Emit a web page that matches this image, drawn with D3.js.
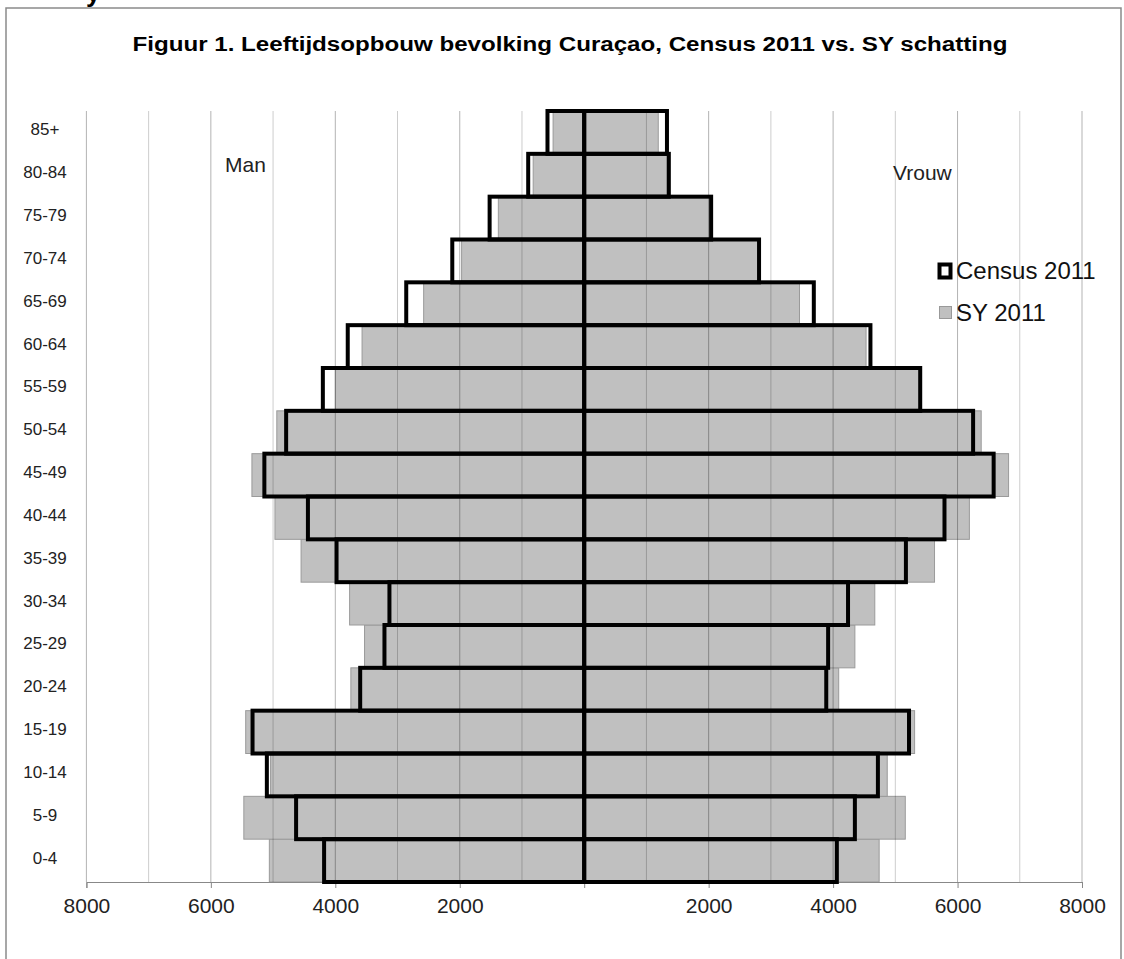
<!DOCTYPE html>
<html><head><meta charset="utf-8">
<script src="https://cdn.jsdelivr.net/npm/d3@7"></script>
<style>
html,body{margin:0;padding:0;background:#fff;}
svg{display:block;font-family:"Liberation Sans",Arial,sans-serif;}
</style></head>
<body>
<svg id="c" width="1124" height="959"></svg>
<script>
const categories = ["0-4","5-9","10-14","15-19","20-24","25-29","30-34","35-39","40-44","45-49","50-54","55-59","60-64","65-69","70-74","75-79","80-84","85+"];
const manCensus   = [4180,4630,5100,5330,3600,3210,3130,3980,4440,5140,4790,4200,3800,2860,2120,1520,900,590];
const manSY       = [5060,5470,5040,5440,3750,3530,3770,4550,4970,5340,4940,4000,3570,2580,1970,1380,820,500];
const vrouwCensus = [4060,4350,4720,5220,3890,3920,4240,5170,5790,6580,6250,5400,4600,3690,2810,2040,1360,1330];
const vrouwSY     = [4740,5160,4870,5310,4090,4350,4670,5630,6190,6820,6380,5380,4530,3460,2790,2030,1330,1190];
const tickValues  = [-8000,-6000,-4000,-2000,0,2000,4000,6000,8000];
const gridValues  = [-8000,-7000,-6000,-5000,-4000,-3000,-2000,-1000,1000,2000,3000,4000,5000,6000,7000,8000];
const seriesNames = ["Census 2011","SY 2011"];
const titleText = "Figuur 1. Leeftijdsopbouw bevolking Curaçao, Census 2011 vs. SY schatting";

const svg = d3.select("#c");
const x = d3.scaleLinear().domain([-8000,8000]).range([86.4,1082]);
const y = d3.scaleBand().domain(categories.slice().reverse()).range([111,882]).padding(0);

// frame
svg.append("path").attr("d","M6,959 V8 H1121 V959").attr("fill","none").attr("stroke","#8a8a8a").attr("stroke-width",1.5);
// clipped heading fragment (cut off at the top in the reference too)
svg.append("text").attr("x",86).attr("y",2).attr("font-size",26).attr("font-weight","bold").text("y");

// title
svg.append("text").attr("x",570).attr("y",51).attr("text-anchor","middle")
  .attr("font-size",20).attr("font-weight","bold")
  .attr("textLength",875).attr("lengthAdjust","spacingAndGlyphs").text(titleText);

const rows = categories.map((c,i)=>({c, mC:manCensus[i], mS:manSY[i], vC:vrouwCensus[i], vS:vrouwSY[i]}));

// SY bars
const g = svg.append("g");
rows.forEach(r=>{
  g.append("rect").attr("x",x(-r.mS)).attr("width",x(0)-x(-r.mS)).attr("y",y(r.c)).attr("height",y.bandwidth())
    .attr("fill","#c0c0c0").attr("stroke","#9a9a9a").attr("stroke-width",1);
  g.append("rect").attr("x",x(0)).attr("width",x(r.vS)-x(0)).attr("y",y(r.c)).attr("height",y.bandwidth())
    .attr("fill","#c0c0c0").attr("stroke","#9a9a9a").attr("stroke-width",1);
});

// gridlines (over the grey bars, translucent)
svg.append("g").selectAll("line").data(gridValues).join("line")
  .attr("x1",d=>x(d)).attr("x2",d=>x(d)).attr("y1",111).attr("y2",882)
  .attr("stroke",d=>d%2000===0?"rgba(0,0,0,0.30)":"rgba(0,0,0,0.20)").attr("stroke-width",1);

// axis
const ax = svg.append("g").attr("transform","translate(0,882)")
  .call(d3.axisBottom(x).tickValues(tickValues).tickSize(6).tickFormat(d=>d===0?"":Math.abs(d)));
ax.select(".domain").attr("stroke","#888");
ax.selectAll(".tick line").attr("stroke","#888");
ax.selectAll(".tick text").attr("font-size",21).attr("fill","#222").attr("dy","1.05em")
  .attr("font-family","Liberation Sans, Arial, sans-serif");

// Census outlines
const gc = svg.append("g");
rows.forEach(r=>{
  gc.append("rect").attr("x",x(-r.mC)).attr("width",x(0)-x(-r.mC)).attr("y",y(r.c)).attr("height",y.bandwidth())
    .attr("fill","none").attr("stroke","#000").attr("stroke-width",4);
  gc.append("rect").attr("x",x(0)).attr("width",x(r.vC)-x(0)).attr("y",y(r.c)).attr("height",y.bandwidth())
    .attr("fill","none").attr("stroke","#000").attr("stroke-width",4);
});

// category labels
svg.append("g").selectAll("text").data(categories).join("text")
  .attr("x",45).attr("y",d=>y(d)+y.bandwidth()/2+3).attr("text-anchor","middle")
  .attr("font-size",17).attr("fill","#222").text(d=>d);

// Man / Vrouw
svg.append("text").attr("x",225).attr("y",172).attr("font-size",21).attr("fill","#222").text("Man");
svg.append("text").attr("x",893).attr("y",180).attr("font-size",21).attr("fill","#222").text("Vrouw");

// legend
svg.append("rect").attr("x",939.5).attr("y",264.5).attr("width",11).attr("height",13)
  .attr("fill","#fff").attr("stroke","#000").attr("stroke-width",4);
svg.append("text").attr("x",956).attr("y",279).attr("font-size",24).attr("fill","#111").text(seriesNames[0]);
svg.append("rect").attr("x",939.5).attr("y",306.5).attr("width",12).attr("height",12)
  .attr("fill","#c0c0c0").attr("stroke","#999").attr("stroke-width",1);
svg.append("text").attr("x",956).attr("y",321).attr("font-size",24).attr("fill","#111").text(seriesNames[1]);
</script>
</body></html>
